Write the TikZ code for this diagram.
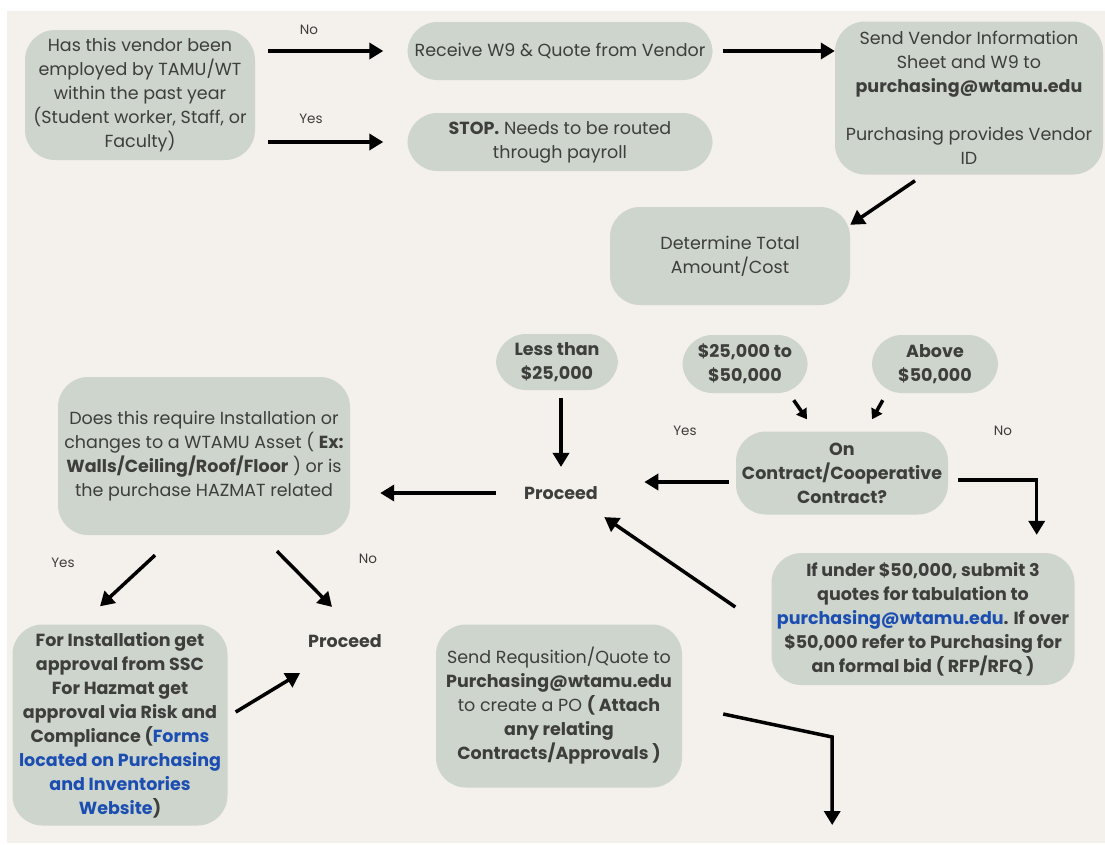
\documentclass[tikz,border=0pt]{standalone}
\usepackage{fontspec}
\setmainfont{Poppins}
\usetikzlibrary{arrows.meta,positioning,calc}
\definecolor{sage}{RGB}{205,213,204}
\definecolor{paper}{RGB}{244,240,235}
\definecolor{ink}{RGB}{62,62,60}
\definecolor{linkblue}{RGB}{28,78,178}

\begin{document}
\begin{tikzpicture}[x=1pt,y=-1pt,
    box/.style={fill=sage, rounded corners=30pt, align=center, text=ink, inner sep=0pt,
      font=\fontsize{17.5}{24}\selectfont},
    boldbox/.style={box, font=\fontsize{17.5}{24}\selectfont\bfseries},
    plain/.style={align=center, text=ink, font=\fontsize{17.5}{24}\selectfont\bfseries},
    tag/.style={text=ink, font=\fontsize{13.5}{15}\selectfont},
    flow/.style={line width=3.5pt, -{Triangle[length=14pt,width=16pt]}},
    tiny/.style={line width=3.5pt, -{Triangle[length=10pt,width=12pt]}}]
    \useasboundingbox (0,0) rectangle (1105,844);
    \fill[paper] (7,11) rectangle (1105,843);

    % vendor check
    \node[box, minimum width=230pt, minimum height=130pt] (vendor) at (140,95)
      {Has this vendor been\\ employed by TAMU/WT\\ within the past year\\ (Student worker, Staff, or\\ Faculty)};
    \node[box, minimum width=305pt, minimum height=58pt] (recv) at (560,51) {Receive W9 \& Quote from Vendor};
    \node[box, minimum width=305pt, minimum height=58pt] (stop) at (560,142)
      {\textbf{STOP.} Needs to be routed\\ through payroll};
    \node[box, minimum width=268pt, minimum height=153pt] (info) at (969,98)
      {Send Vendor Information\\ Sheet and W9 to\\ \textbf{purchasing@wtamu.edu}\\[24pt] Purchasing provides Vendor\\ ID};

    \draw[flow, shorten <=13pt, shorten >=24pt] (vendor.east |- recv) -- (recv);
    \draw[flow, shorten <=13pt, shorten >=24pt] (vendor.east |- stop) -- (stop);
    \draw[flow, shorten <=10pt] (recv) -- (info.west |- recv);
    \node[tag] (no1) at (309,30) {No};
    \node[tag] (yes1) at (311,119) {Yes};

    % amount
    \node[box, minimum width=240pt, minimum height=98pt] (total) at (730,256) {Determine Total\\ Amount/Cost};
    \draw[flow] ($(info.south)+(-54,6)$) -- ($(total.north east)+(0,18)$);

    \node[boldbox, minimum width=122pt, minimum height=56pt] (less) at (557,362) {Less than\\ \$25,000};
    \node[boldbox, minimum width=125pt, minimum height=58pt] (mid) at (745,364) {\$25,000 to\\ \$50,000};
    \node[boldbox, minimum width=126pt, minimum height=58pt] (above) at (935,364) {Above\\ \$50,000};
    \node[boldbox, minimum width=212pt, minimum height=83pt] (contract) at (842,473)
      {On\\ Contract/Cooperative\\ Contract?};
    \node[plain] (go1) at (561,493) {Proceed};
    \node[tag] (yes2) at (685,431) {Yes};
    \node[tag] (no2) at (1003,431) {No};

    \draw[flow, shorten <=8pt, shorten >=16pt] (less.south -| go1) -- (go1);
    \draw[tiny] ($(mid.south east)+(-14,7)$) -- ($(contract.north)+(-35,-12)$);
    \draw[tiny] ($(above.south west)+(11,7)$) -- ($(contract.north)+(30,-12)$);
    \draw[flow] ($(contract.west)+(-7,9)$) -- ($(go1.east)+(43,-11)$);

    \node[boldbox, minimum width=303pt, minimum height=132pt] (under) at (923,619)
      {If under \$50,000, submit 3\\ quotes for tabulation to\\ \textcolor{linkblue}{purchasing@wtamu.edu}. If over\\ \$50,000 refer to Purchasing for\\ an formal bid ( RFP/RFQ )};
    \draw[flow] ($(contract.east)+(10,7)$) -| ($(under.north east)+(-38,-18)$);
    \draw[flow] ($(under.west)+(-36,-12)$) -- ($(go1.south east)+(3,14)$);

    % asset / hazmat
    \node[box, minimum width=292pt, minimum height=158pt] (asset) at (204,456)
      {Does this require Installation or\\ changes to a WTAMU Asset ( \textbf{Ex:}\\ \textbf{Walls/Ceiling/Roof/Floor} ) or is\\ the purchase HAZMAT related};
    \draw[flow, shorten <=25pt, shorten >=30pt] (go1.west) -- (go1.west -| asset.east);

    \node[boldbox, minimum width=215pt, minimum height=201pt] (install) at (120,725)
      {For Installation get\\ approval from SSC\\ For Hazmat get\\ approval via Risk and\\ Compliance (\textcolor{linkblue}{Forms}\\
       \textcolor{linkblue}{located on Purchasing}\\ \textcolor{linkblue}{and Inventories}\\ \textcolor{linkblue}{Website})};
    \node[plain] (go2) at (345,641) {Proceed};
    \node[tag] (yes3) at (63,563) {Yes};
    \node[tag] (no3) at (368,559) {No};

    \draw[flow] ($(asset.south)+(-49,20)$) -- ($(install.north)+(-20,-18)$);
    \draw[flow] ($(asset.south)+(73,16)$) -- ($(go2.north)+(-13,-24)$);
    \draw[flow] ($(install.east)+(8,-13)$) -- ($(go2.south)+(-45,22)$);

    % requisition
    \node[box, minimum width=246pt, minimum height=163pt] (req) at (559,706)
      {Send Requsition/Quote to\\ \textbf{Purchasing@wtamu.edu}\\ to create a PO \textbf{( Attach}\\ \textbf{any relating}\\ \textbf{Contracts/Approvals )}};
    \draw[flow] ($(req.east)+(41,8)$) -- ($(req.east)+(150,31)$) -- ($(req.east)+(150,119)$);
\end{tikzpicture}
\end{document}
